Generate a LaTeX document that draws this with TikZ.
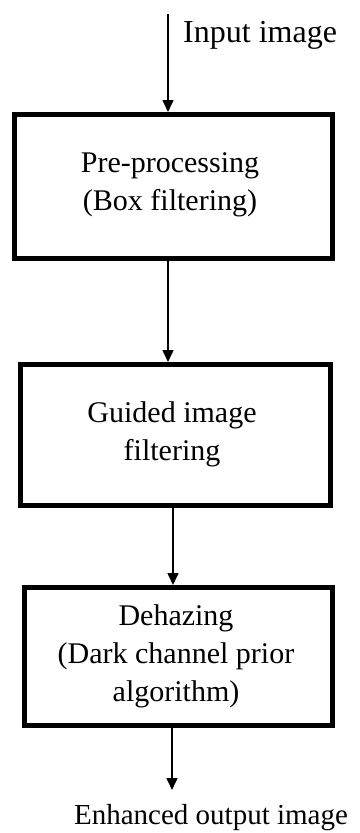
\documentclass[tikz,border=0pt]{standalone}
\usepackage{fontspec}
\setmainfont{Liberation Serif}
\usetikzlibrary{arrows.meta}
\begin{document}
\begin{tikzpicture}[x=1pt,y=-1pt,
  procbox/.style={draw=black,line width=4.5pt,rectangle,inner sep=0pt,anchor=north west},
  lbl/.style={font=\fontsize{30}{38}\selectfont,align=center,inner sep=0pt},
  flow/.style={line width=1.5pt,-{Triangle[length=12pt,width=11pt]}}]
\useasboundingbox (0,0) rectangle (359,833);
\node[procbox,minimum width=318pt,minimum height=144pt] (b1) at (12,112) {};
\node[procbox,minimum width=310pt,minimum height=141pt] (b2) at (18,362) {};
\node[procbox,minimum width=308pt,minimum height=138pt] (b3) at (22,585) {};
\node[lbl] (t1) at (170,185) {Pre-processing\\(Box filtering)};
\node[lbl] (t2) at (172,434) {Guided image\\filtering};
\node[lbl] (t3) at (176,656) {Dehazing\\(Dark channel prior\\algorithm)};
\coordinate (in) at (168,14);
\coordinate (out) at (172,790);
\node[lbl,font=\fontsize{32}{38}\selectfont,anchor=west] (inlbl) at (183,35) {Input image};
\node[lbl,font=\fontsize{29}{38}\selectfont] (outlbl) at (211,818) {Enhanced output image};
\draw[flow] (in) -- (b1.north -| in);
\draw[flow] (b1.south -| in) -- (b2.north -| in);
\draw[flow] ([xshift=5pt]b2.south -| in) -- ([xshift=5pt]b3.north -| in);
\draw[flow] (b3.south -| out) -- (out);
\end{tikzpicture}
\end{document}
